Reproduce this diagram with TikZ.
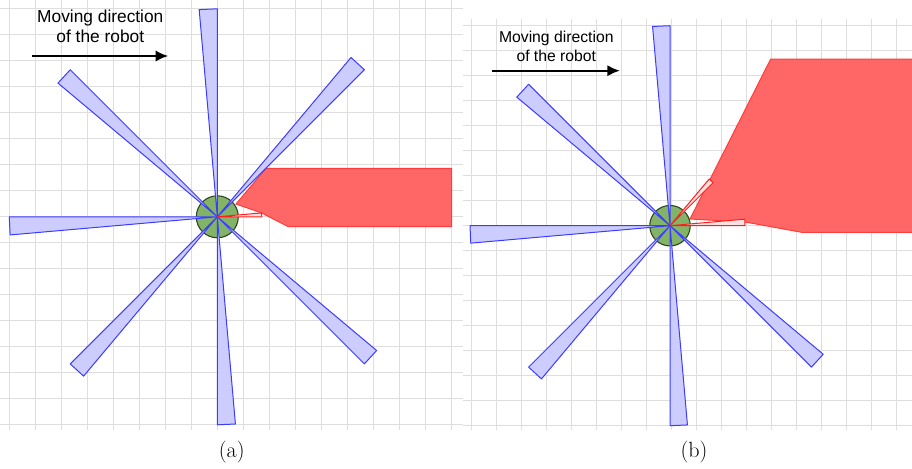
\documentclass[tikz,border=0pt]{standalone}
\usepackage{fontspec}
\newfontfamily\labelfont{Liberation Sans}
\usetikzlibrary{arrows.meta}

\definecolor{gridgray}{RGB}{222,222,222}
\definecolor{beamfill}{RGB}{204,204,255}
\definecolor{beamline}{RGB}{60,60,255}
\definecolor{obstfill}{RGB}{255,102,102}
\definecolor{obstline}{RGB}{255,60,60}
\definecolor{hitline}{RGB}{255,30,30}
\definecolor{robotfill}{RGB}{130,179,102}
\definecolor{robotline}{RGB}{45,65,35}

% one sensor cone: #1 style, #2 robot centre, #3 start angle, #4 range
\newcommand\sensorcone[4]{%
  \draw[#1, shift={(#2)}] (0,0) -- ({#4*cos(#3)},{-#4*sin(#3)})
        -- ({#4*cos(#3+5)},{-#4*sin(#3+5)}) -- cycle;}

\begin{document}
\begin{tikzpicture}[x=0.75pt,y=-0.75pt,
  gridline/.style={draw=gridgray, line width=0.75pt},
  freebeam/.style={draw=beamline, fill=beamfill, line width=0.75pt, line join=round},
  hitbeam/.style={draw=hitline, fill=red!12, line width=0.75pt, line join=round},
  obstacle/.style={draw=obstline, fill=obstfill, line width=0.75pt},
  robot/.style={circle, draw=robotline, fill=robotfill, line width=0.8pt, inner sep=0pt},
  motion/.style={-{Latex[length=9.5pt,width=8.5pt]}, line width=1.8pt},
  notetext/.style={anchor=base, inner sep=0pt, font=\labelfont},
  caption/.style={anchor=base, inner sep=0pt, font=\fontsize{16.5}{19}\selectfont}]
\useasboundingbox (0,0) rectangle (912,468);

% ---------- panel (a) ----------
\foreach \i in {0,...,17} \draw[gridline] ({9.3+26*\i},0) -- ({9.3+26*\i},430);
\foreach \j in {0,...,16} \draw[gridline] (0,{8.3+26*\j}) -- (463,{8.3+26*\j});

\draw[obstacle] (236,204) -- (266,168.3) -- (451.7,168.3) -- (451.7,226.7)
  -- (288.3,226.7) -- (261.7,213) -- cycle;

\coordinate (ca) at (217.3,216.8);
\node[robot, minimum size=42*0.75pt] (robotA) at (ca) {};
\foreach \a in {45,90,135,180,225,270,315} {\sensorcone{freebeam}{ca}{\a}{208}}
\sensorcone{hitbeam}{ca}{0}{44.5}

\node[notetext, font=\labelfont\fontsize{13}{15}\selectfont] (noteA1) at (100.3,22.7) {Moving direction};
\node[notetext, font=\labelfont\fontsize{13}{15}\selectfont] (noteA2) at (100.3,42.7) {of the robot};
\coordinate (arrA0) at (32.3,56);
\coordinate (arrA1) at (168.3,56);
\draw[motion] (arrA0) -- (arrA1);

\node[caption] (capA) at (231.7,457.5) {(a)};

% ---------- panel (b) ----------
\foreach \i in {0,...,17} \draw[gridline] ({471.7+25*\i},19) -- ({471.7+25*\i},430);
\foreach \j in {0,...,16} \draw[gridline] (463,{25+25*\j}) -- (912,{25+25*\j});

\draw[obstacle] (690,219) -- (770.7,59) -- (914,59) -- (914,232.3)
  -- (801.7,232.3) -- (745,222) -- cycle;

\coordinate (cb) at (670,225.7);
\node[robot, minimum size=40.5*0.75pt] (robotB) at (cb) {};
\foreach \a in {90,135,180,225,270,315} {\sensorcone{freebeam}{cb}{\a}{200}}
\sensorcone{hitbeam}{cb}{0}{75}
\sensorcone{hitbeam}{cb}{45}{61}

\node[notetext, font=\labelfont\fontsize{11.8}{14}\selectfont] (noteB1) at (556.3,42.3) {Moving direction};
\node[notetext, font=\labelfont\fontsize{11.8}{14}\selectfont] (noteB2) at (556.3,61) {of the robot};
\coordinate (arrB0) at (491.7,70.7);
\coordinate (arrB1) at (620,70.7);
\draw[motion] (arrB0) -- (arrB1);

\node[caption] (capB) at (694,457.5) {(b)};
\end{tikzpicture}
\end{document}
